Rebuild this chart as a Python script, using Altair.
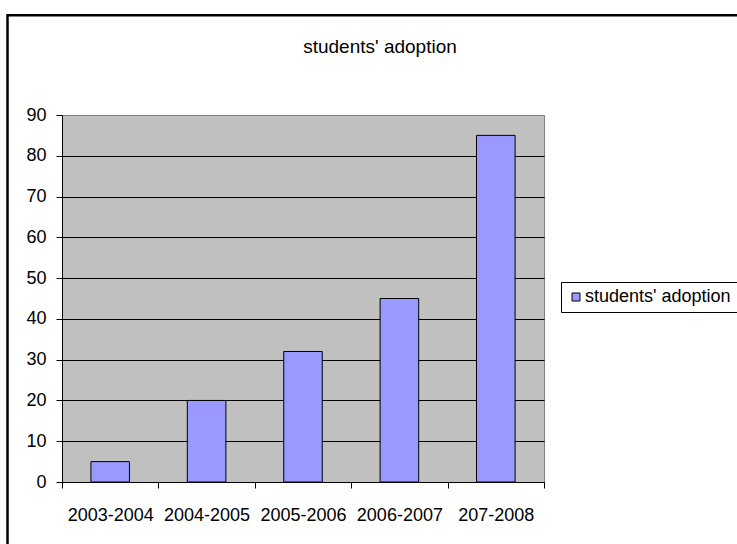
import altair as alt
import pandas as pd

categories = ["2003-2004", "2004-2005", "2005-2006", "2006-2007", "207-2008"]
values = [5, 20, 32, 45, 85]
series = ["students' adoption"] * 5
y_ticks = [0, 10, 20, 30, 40, 50, 60, 70, 80, 90]

df = pd.DataFrame({"period": categories, "value": values, "series": series})

FONT = "Liberation Sans"

bars = alt.Chart(df).mark_bar(
    stroke="black", strokeWidth=1, width=alt.RelativeBandSize(0.4)
).encode(
    x=alt.X(
        "period:N",
        sort=categories,
        scale=alt.Scale(paddingInner=0, paddingOuter=0),
        axis=alt.Axis(
            title=None,
            labelAngle=0,
            tickBand="extent",
            tickSize=6,
            tickColor="black",
            domainColor="black",
            labelPadding=18,
            labelFontSize=18,
            labelFont=FONT,
            labelColor="black",
            labelOverlap=False,
            grid=False,
        ),
    ),
    y=alt.Y(
        "value:Q",
        scale=alt.Scale(domain=[0, 90], nice=False),
        axis=alt.Axis(
            title=None,
            values=y_ticks,
            grid=True,
            gridColor=alt.condition("datum.value === 90", alt.value("#808080"), alt.value("black")),
            gridWidth=1,
            tickSize=6,
            tickColor="black",
            domainColor="black",
            labelPadding=10,
            labelFontSize=18,
            labelFont=FONT,
            labelColor="black",
        ),
    ),
    color=alt.Color(
        "series:N",
        scale=alt.Scale(range=["#9999FF"]),
        legend=alt.Legend(
            title=None,
            orient="none",
            legendX=499,
            legendY=167,
            symbolType="square",
            symbolSize=64,
            symbolStrokeColor="black",
            symbolStrokeWidth=1,
            labelFontSize=18,
            labelFont=FONT,
            labelColor="black",
            labelOffset=0,
            padding=6,
            strokeColor="black",
            fillColor="white",
        ),
    ),
)

border = alt.Chart(alt.Data(values=[{}])).mark_rect(
    fillOpacity=0, stroke="black", strokeWidth=2.5
).encode(
    x=alt.value(-54.5),
    x2=alt.value(720),
    y=alt.value(-99.7),
    y2=alt.value(470),
)

chart = alt.layer(border, bars).properties(
    width=482,
    height=367,
    padding={"left": 62, "top": 115, "right": 193, "bottom": 62},
    autosize=alt.AutoSizeParams(type="none"),
    background="white",
    title=alt.Title(
        "students' adoption",
        anchor="middle",
        dx=77,
        offset=-58,
        baseline="alphabetic",
        fontSize=19,
        font=FONT,
        fontWeight="normal",
        color="black",
    ),
).configure_view(
    fill="#C0C0C0", stroke="#808080", strokeWidth=1
)

chart.save("out.html", embed_options={"renderer": "svg", "actions": False})
